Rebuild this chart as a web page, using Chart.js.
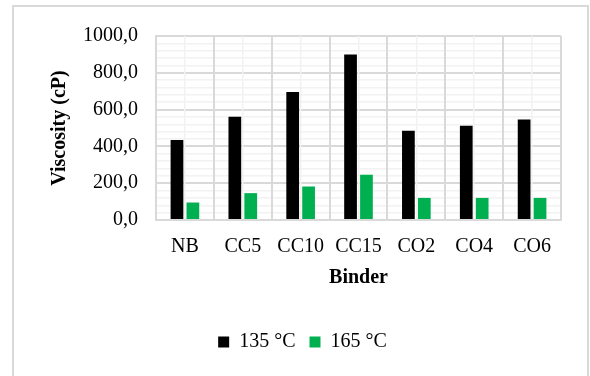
<!DOCTYPE html>
<html>
<head>
<meta charset="utf-8">
<script src="https://cdn.jsdelivr.net/npm/chart.js@4/dist/chart.umd.min.js"></script>
<style>
  html, body { margin: 0; padding: 0; background: #fff; }
  #wrap { position: relative; width: 590px; height: 376px; overflow: hidden; }
  #marco { position: absolute; left: 12px; top: 5px; width: 573px; height: 400px; border: 2px solid #d9d9d9; }
  #myChart { position: absolute; left: 0; top: 0; }
</style>
</head>
<body>
<div id="wrap">
  <div id="marco"></div>
  <canvas id="myChart" width="590" height="376"></canvas>
</div>
<script>
// Datos
const binders = ["NB", "CC5", "CC10", "CC15", "CO2", "CO4", "CO6"];
const visc135 = [435, 561, 696, 900, 485, 512, 546];
const visc165 = [95, 146, 182, 246, 120, 120, 120];

const fuente = "'Liberation Serif', 'Times New Roman', serif";

const graph = document.querySelector("#myChart");

const chart = new Chart(graph, {
    type: 'bar',
    data: {
        labels: binders,
        datasets: [{
            label: '135 °C',
            data: visc135,
            backgroundColor: '#000000',
            categoryPercentage: 0.55,
            barPercentage: 0.8
        }, {
            label: '165 °C',
            data: visc165,
            backgroundColor: '#00b050',
            categoryPercentage: 0.55,
            barPercentage: 0.8
        }]
    },
    options: {
        responsive: false,
        animation: false,
        layout: {
            padding: { left: 44, right: 29, top: 36, bottom: 14 }
        },
        scales: {
            y: {
                min: 0,
                max: 1000,
                ticks: {
                    stepSize: 40,
                    autoSkip: false,
                    padding: 18,
                    color: '#000',
                    font: { family: fuente, size: 20 },
                    callback: (v) => v % 200 === 0 ? v.toFixed(1).replace('.', ',') : ''
                },
                grid: {
                    drawTicks: false,
                    lineWidth: (ctx) => ctx.tick && ctx.tick.value % 200 === 0 ? 2 : 1.5,
                    color: (ctx) => ctx.tick && ctx.tick.value % 200 === 0 ? '#d9d9d9' : '#f2f2f2'
                },
                border: { display: true, color: '#d9d9d9', width: 2 },
                title: {
                    display: true,
                    text: 'Viscosity (cP)',
                    color: '#000',
                    padding: { top: 4, bottom: 4 },
                    font: { family: fuente, size: 20, weight: 'bold' }
                },
                afterFit: (s) => { s.width = 112; }
            },
            x: {
                ticks: {
                    autoSkip: false,
                    maxRotation: 0,
                    padding: 15,
                    color: '#000',
                    font: { family: fuente, size: 20 }
                },
                grid: { drawTicks: false, color: '#d9d9d9', lineWidth: 2 },
                border: { display: true, color: '#d9d9d9', width: 2 },
                title: {
                    display: true,
                    text: 'Binder',
                    color: '#000',
                    padding: { top: 4, bottom: 28 },
                    font: { family: fuente, size: 20, weight: 'bold' }
                },
                afterFit: (s) => { s.height = 98; }
            },
            // eje auxiliar solo para las lineas claras en el centro de cada categoria
            x2: {
                type: 'category',
                labels: binders,
                position: 'bottom',
                offset: true,
                ticks: { display: false, autoSkip: false },
                grid: { offset: false, drawTicks: false, color: '#f2f2f2', lineWidth: 1.5 },
                border: { display: false },
                afterFit: (s) => { s.height = 0; }
            }
        },
        plugins: {
            legend: {
                position: 'bottom',
                labels: {
                    boxWidth: 11,
                    boxHeight: 11,
                    padding: 14,
                    color: '#000',
                    font: { family: fuente, size: 20 }
                }
            },
            tooltip: { enabled: false }
        }
    }
});
</script>
</body>
</html>
